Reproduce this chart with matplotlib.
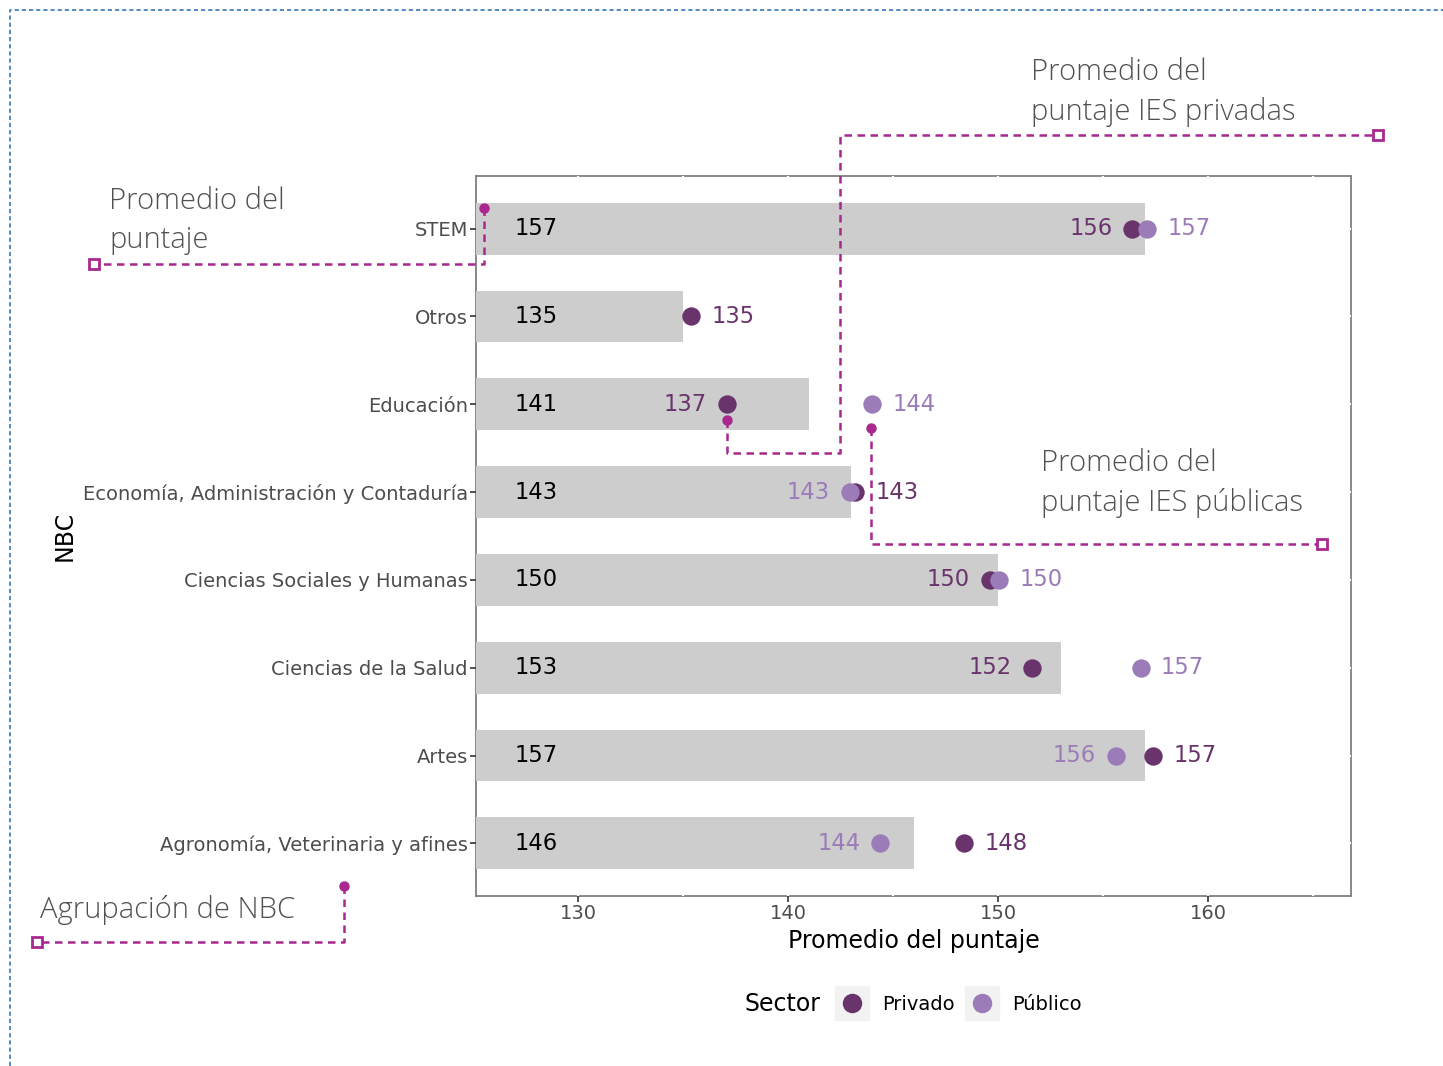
import matplotlib.pyplot as plt
from matplotlib.lines import Line2D
from matplotlib.ticker import MultipleLocator
import numpy as np

# data
categories = [
    "STEM",
    "Otros",
    "Educación",
    "Economía, Administración y Contaduría",
    "Ciencias Sociales y Humanas",
    "Ciencias de la Salud",
    "Artes",
    "Agronomía, Veterinaria y afines",
]
promedio_total = [157, 135, 141, 143, 150, 153, 157, 146]
promedio_privado = [156.4, 135.4, 137.1, 143.2, 149.6, 151.6, 157.4, 148.4]
promedio_publico = [157.1, np.nan, 144.0, 142.95, 150.05, 156.8, 155.6, 144.4]

C_PRIV = "#69336b"
C_PUB = "#9b7cb8"
C_BAR = "#cdcdcd"
C_NOTE = "#a8288f"
C_NOTE_TXT = "#505153"

W, H = 1443, 1066
fig = plt.figure(figsize=(W / 100, H / 100), dpi=100)
ax = fig.add_axes([476 / W, 1 - 896 / H, 875 / W, 720 / H])


def px(x, y):
    return (x / W, 1 - y / H)


ypos = np.arange(len(categories))
xmin, xmax = 125.14, 166.81

ax.barh(ypos, np.array(promedio_total) - xmin, left=xmin, height=0.59, color=C_BAR, zorder=1)
ax.scatter(promedio_privado, ypos, s=175, color=C_PRIV, zorder=3, linewidths=0)
ax.scatter(promedio_publico, ypos, s=175, color=C_PUB, zorder=4, linewidths=0)

for i in range(len(categories)):
    ax.annotate(f"{promedio_total[i]:.0f}", xy=(xmin, ypos[i]), xytext=(28, 0),
                textcoords="offset points", ha="left", va="center", fontsize=16.3, color="black")
    pv, pb = promedio_privado[i], promedio_publico[i]
    if np.isnan(pb):
        pairs = [(pv, C_PRIV, 1)]
    elif pv <= pb:
        pairs = [(pv, C_PRIV, -1), (pb, C_PUB, 1)]
    else:
        pairs = [(pb, C_PUB, -1), (pv, C_PRIV, 1)]
    for val, col, side in pairs:
        ax.annotate(f"{round(val):.0f}", xy=(val, ypos[i]), xytext=(side * 14.5, 0),
                    textcoords="offset points", ha="left" if side > 0 else "right",
                    va="center", fontsize=16.3, color=col)

ax.set_xlim(xmin, xmax)
ax.set_ylim(len(categories) - 0.4, -0.6)
ax.set_yticks(ypos)
ax.set_yticklabels(categories)
ax.xaxis.set_major_locator(MultipleLocator(10))
ax.xaxis.set_minor_locator(MultipleLocator(5))
ax.set_xticks([130, 140, 150, 160])
ax.tick_params(axis="both", which="major", length=4, width=1.2, color="#333333",
               labelcolor="#4d4d4d", labelsize=14, pad=2)
ax.tick_params(axis="x", which="minor", length=0)
ax.set_xlabel("Promedio del puntaje", fontsize=17, color="black", labelpad=4)
ax.set_ylabel("NBC", fontsize=17, color="black", labelpad=4)
ax.yaxis.set_label_coords(-0.456, 0.5)

for s in ax.spines.values():
    s.set_color("#7f7f7f")
    s.set_linewidth(1.3)
    s.set_zorder(0.3)
ax.grid(True, which="both", axis="x", color="white", linewidth=1.6, zorder=0.5)
ax.grid(True, which="major", axis="y", color="white", linewidth=1.6, zorder=0.5)
ax.set_axisbelow(True)

# legend
fig.text(*px(744, 1004), "Sector", fontsize=17, ha="left", va="center")
handles = [
    (Line2D([], [], marker="s", ls="", ms=25, color="#f2f2f2"),
     Line2D([], [], marker="o", ls="", ms=13, color=C_PRIV)),
    (Line2D([], [], marker="s", ls="", ms=25, color="#f2f2f2"),
     Line2D([], [], marker="o", ls="", ms=13, color=C_PUB)),
]
fig.legend(handles, ["Privado", "Público"], loc="center left", bbox_to_anchor=px(834, 1004),
           ncol=2, frameon=False, fontsize=14, handlelength=1.8, handletextpad=0.65,
           columnspacing=0.55, borderpad=0, borderaxespad=0)

# callouts
tf = fig.transFigure


def callout(points, text, text_xy):
    xs = [p[0] / W for p in points]
    ys = [1 - p[1] / H for p in points]
    fig.add_artist(Line2D(xs, ys, transform=tf, color=C_NOTE, lw=1.8, ls=(0, (3, 2.2))))
    fig.add_artist(Line2D([xs[0]], [ys[0]], transform=tf, marker="o", ms=6.5,
                          color=C_NOTE, ls=""))
    fig.add_artist(Line2D([xs[-1]], [ys[-1]], transform=tf, marker="s", ms=7.5,
                          mfc="white", mec=C_NOTE, mew=2, ls=""))
    fig.text(*px(*text_xy), text, fontsize=21, color=C_NOTE_TXT, family="Open Sans",
             fontweight="light", ha="left", va="center", linespacing=1.42)


callout([(484, 208), (484, 264), (94, 264)], "Promedio del\npuntaje", (109, 221))
callout([(727, 420), (727, 453), (840, 453), (840, 135), (1378, 135)],
        "Promedio del\npuntaje IES privadas", (1031, 92))
callout([(871, 428), (871, 544), (1322, 544)],
        "Promedio del\npuntaje IES públicas", (1041, 483))
callout([(344, 886), (344, 942), (37, 942)], "Agrupación de NBC", (40, 910))

# outer dashed frame
fig.add_artist(Line2D([10 / W, 10 / W, 1], [0, 1 - 10 / H, 1 - 10 / H], transform=tf,
                      color="#3a78b8", lw=1.2, ls=(0, (2.5, 1.8))))

fig.savefig("out.png", dpi=100)
